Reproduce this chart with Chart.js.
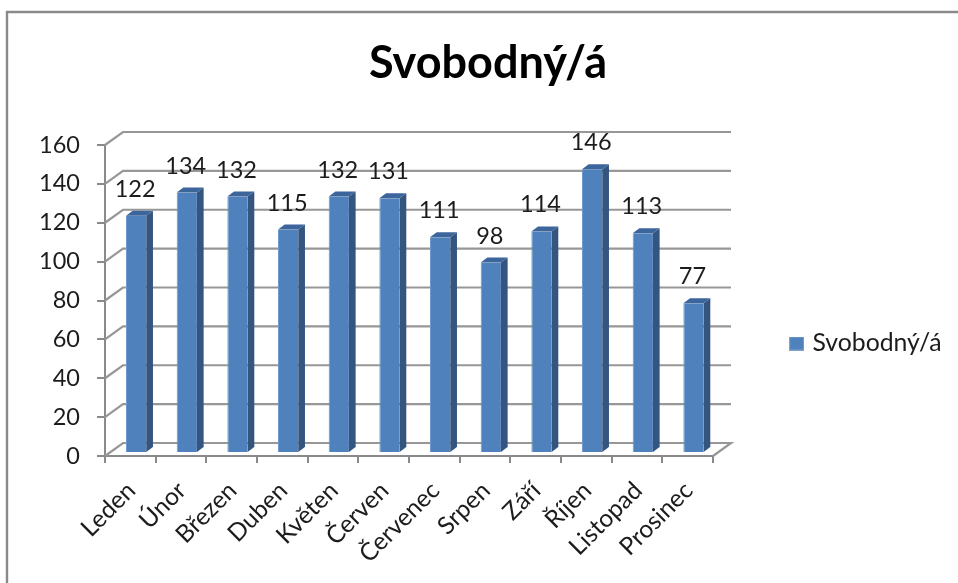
<!DOCTYPE html>
<html><head><meta charset="utf-8">
<style>html,body{margin:0;padding:0;background:#fff}#w{width:958px;height:583px}</style>
<script src="https://cdn.jsdelivr.net/npm/chart.js@4"></script>
</head><body><div id="w"><canvas id="c" width="958" height="583"></canvas></div>
<script>
const seriesName = 'Svobodný/á';
const categories = ['Leden','Únor','Březen','Duben','Květen','Červen','Červenec','Srpen','Září','Říjen','Listopad','Prosinec'];
const values = [122,134,132,115,132,131,111,98,114,146,113,77];
const yTicks = [0,20,40,60,80,100,120,140,160];

const FONT = 'Lato';
const WALL_DX = 18, WALL_DY = -13;
const BAR_SHIFT_X = 5.8, BAR_SHIFT_Y = -3;
const BAR_DX = 6.7, BAR_DY = -5;
const AXIS = '#8a8a8a', GRID = '#979797', TEXT = '#1c1c1c';

const swatch = document.createElement('canvas');
swatch.width = 15; swatch.height = 14;
{ const s = swatch.getContext('2d');
  s.fillStyle = '#4f81bd'; s.fillRect(0,0,15,14);
  s.strokeStyle = '#7fa3cf'; s.lineWidth = 1; s.strokeRect(.5,.5,14,13); }

const scene3d = {
  id:'scene3d',
  beforeDraw(chart){
    const c = chart.ctx;
    c.save(); c.fillStyle='#fff'; c.fillRect(0,0,chart.width,chart.height);
    c.strokeStyle='#8a8a8a'; c.lineWidth=2.4;
    c.beginPath(); c.moveTo(7,chart.height); c.lineTo(7,12); c.lineTo(chart.width,12); c.stroke();
    c.restore();
  },
  afterLayout(chart){
    const t = chart.titleBlock; t.left = 7; t.right = 969;
    const l = chart.legend;
    l.left = 783.5; l.right = 958;
    l.top = 201; l.bottom = 486;
  },
  beforeDatasetsDraw(chart){
    const c = chart.ctx, y = chart.scales.y, a = chart.chartArea;
    c.save(); c.lineWidth = 2.2; c.strokeStyle = GRID;
    yTicks.forEach(v=>{
      const p = y.getPixelForValue(v);
      c.beginPath(); c.moveTo(a.left,p); c.lineTo(a.left+WALL_DX,p+WALL_DY); c.lineTo(a.right+WALL_DX,p+WALL_DY);
      if(v===0) c.lineTo(a.right,p);
      c.stroke();
    });
    c.restore();
    c.save(); c.translate(BAR_SHIFT_X,BAR_SHIFT_Y);
  },
  afterDatasetsDraw(chart){
    const c = chart.ctx; c.restore();
    const meta = chart.getDatasetMeta(0);
    meta.data.forEach((el,i)=>{
      const x0 = el.x-el.width/2+BAR_SHIFT_X, x1 = el.x+el.width/2+BAR_SHIFT_X;
      const yt = el.y+BAR_SHIFT_Y, yb = el.base+BAR_SHIFT_Y;
      c.fillStyle='#34557f';
      c.beginPath(); c.moveTo(x1,yt); c.lineTo(x1+BAR_DX,yt+BAR_DY); c.lineTo(x1+BAR_DX,yb+BAR_DY); c.lineTo(x1,yb); c.closePath(); c.fill();
      c.fillStyle='#3c659b';
      c.beginPath(); c.moveTo(x0,yt); c.lineTo(x0+BAR_DX,yt+BAR_DY); c.lineTo(x1+BAR_DX,yt+BAR_DY); c.lineTo(x1,yt); c.closePath(); c.fill();
      c.fillStyle=TEXT; c.font='23.5px '+FONT; c.textAlign='center'; c.textBaseline='middle';
      c.fillText(String(values[i]), el.x+BAR_SHIFT_X-1, yt-26.5);
    });
  }
};

new Chart(document.getElementById('c'),{
  type:'bar',
  data:{labels:categories,datasets:[{label:seriesName,data:values,backgroundColor:'#4f81bd',borderColor:'#6f9acd',borderWidth:{left:1,right:0,top:0,bottom:1},barPercentage:.4,categoryPercentage:1,clip:false}]},
  options:{
    responsive:false,animation:false,
    layout:{padding:{left:0,top:0,right:245,bottom:0}},
    plugins:{
      tooltip:{enabled:false},
      title:{display:true,text:seriesName,color:'#000',font:{family:FONT,size:45,weight:'bold',lineHeight:1.2},padding:{top:36,bottom:55}},
      legend:{position:'chartArea',align:'center',labels:{color:TEXT,font:{family:FONT,size:24.8},usePointStyle:true,pointStyle:swatch,pointStyleWidth:6.5,boxHeight:14,padding:10}}
    },
    scales:{
      x:{
        afterFit(s){s.height=127},
        grid:{drawOnChartArea:false,color:AXIS,lineWidth:2,tickLength:7,offset:true},
        border:{color:AXIS,width:2},
        ticks:{autoSkip:false,minRotation:45,maxRotation:45,color:TEXT,font:{family:FONT,size:24.5},padding:13,labelOffset:1}
      },
      y:{
        min:0,max:160,
        afterFit(s){s.width=105},
        afterBuildTicks(s){s.ticks=yTicks.map(v=>({value:v}))},
        grid:{drawOnChartArea:false,color:AXIS,lineWidth:2,tickLength:8},
        border:{color:AXIS,width:2},
        ticks:{color:TEXT,font:{family:FONT,size:23.5},padding:17}
      }
    }
  },
  plugins:[scene3d]
});
</script></body></html>
